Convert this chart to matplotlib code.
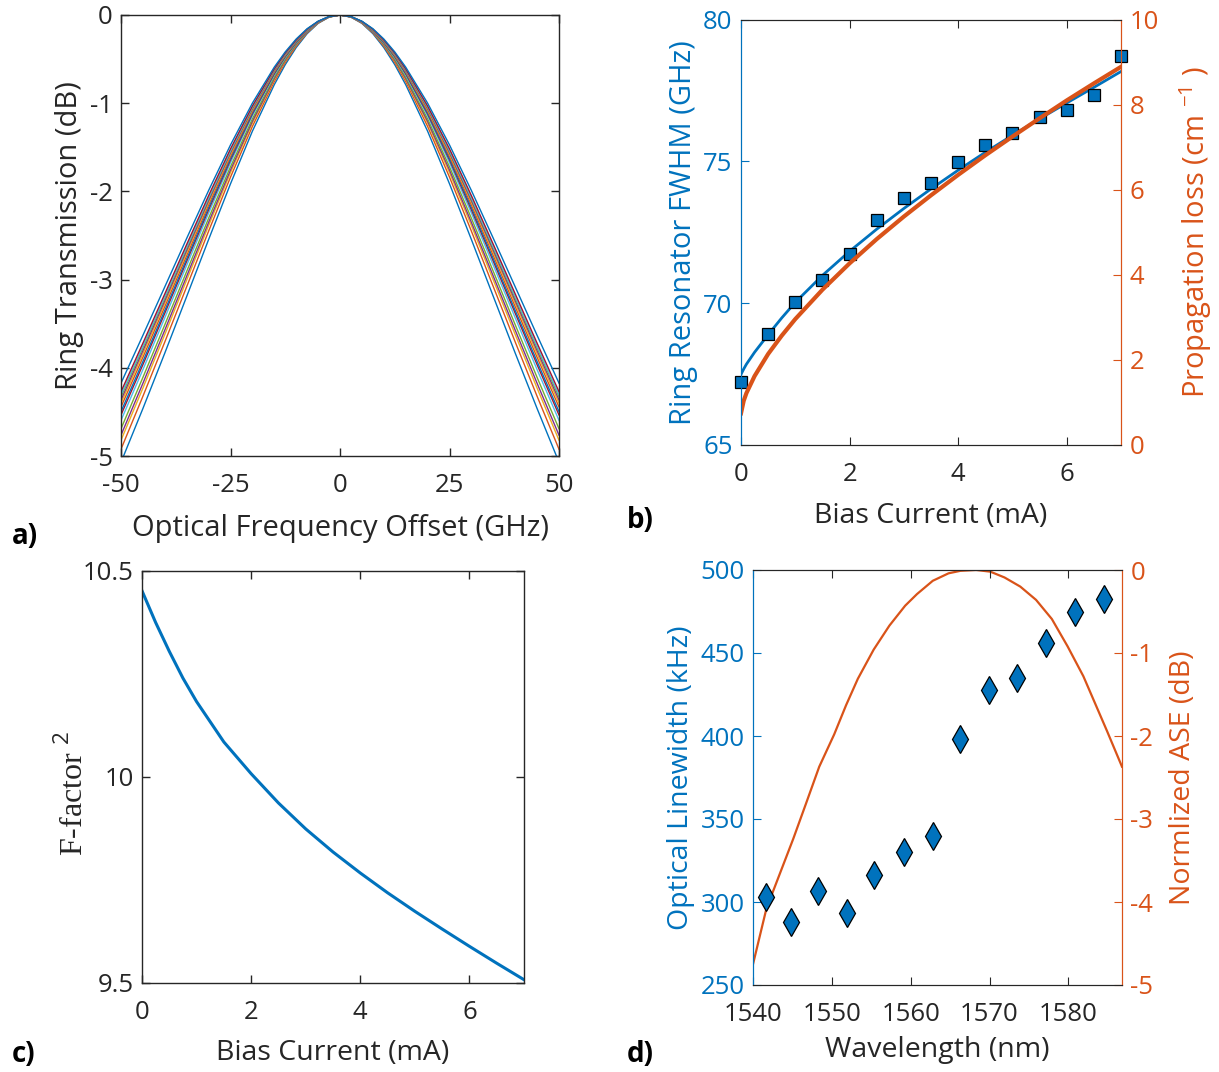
import matplotlib
matplotlib.use('Agg')
import matplotlib.pyplot as plt

plt.rcParams['font.family'] = ['Open Sans', 'DejaVu Sans']
plt.rcParams['mathtext.fontset'] = 'custom'
plt.rcParams['mathtext.rm'] = 'Open Sans'
plt.rcParams['mathtext.it'] = 'Open Sans'
plt.rcParams['axes.unicode_minus'] = False

# ---------------- data ----------------
# (a) ring transmission traces: half profile (offset 0..50 GHz), mirrored about 0
a_offset_half = [0, 2.5, 5, 7.5, 10, 12.5, 15, 20, 25, 30, 35, 40, 45, 50]
a_trace_01 = [0, -0.024, -0.095, -0.211, -0.369, -0.563, -0.790, -1.317, -1.914, -2.546, -3.191, -3.833, -4.462, -5.071]
a_trace_02 = [0, -0.023, -0.091, -0.201, -0.353, -0.538, -0.755, -1.263, -1.838, -2.451, -3.080, -3.707, -4.323, -4.923]
a_trace_03 = [0, -0.022, -0.088, -0.194, -0.342, -0.520, -0.732, -1.225, -1.787, -2.387, -3.004, -3.622, -4.230, -4.821]
a_trace_04 = [0, -0.022, -0.086, -0.191, -0.336, -0.511, -0.719, -1.204, -1.757, -2.351, -2.961, -3.573, -4.176, -4.764]
a_trace_05 = [0, -0.021, -0.084, -0.186, -0.328, -0.499, -0.702, -1.177, -1.721, -2.305, -2.907, -3.512, -4.109, -4.691]
a_trace_06 = [0, -0.020, -0.082, -0.180, -0.317, -0.483, -0.680, -1.143, -1.675, -2.246, -2.838, -3.433, -4.021, -4.596]
a_trace_07 = [0, -0.020, -0.080, -0.176, -0.311, -0.473, -0.667, -1.122, -1.645, -2.209, -2.792, -3.381, -3.964, -4.535]
a_trace_08 = [0, -0.020, -0.079, -0.174, -0.307, -0.467, -0.658, -1.109, -1.627, -2.185, -2.765, -3.350, -3.929, -4.497]
a_trace_09 = [0, -0.019, -0.077, -0.171, -0.301, -0.459, -0.646, -1.091, -1.601, -2.153, -2.727, -3.306, -3.881, -4.444]
a_trace_10 = [0, -0.019, -0.076, -0.168, -0.296, -0.452, -0.637, -1.076, -1.580, -2.126, -2.695, -3.269, -3.840, -4.400]
a_trace_11 = [0, -0.019, -0.075, -0.166, -0.293, -0.446, -0.630, -1.063, -1.562, -2.104, -2.668, -3.239, -3.806, -4.364]
a_trace_12 = [0, -0.019, -0.074, -0.164, -0.289, -0.441, -0.622, -1.051, -1.545, -2.082, -2.642, -3.209, -3.773, -4.328]
a_trace_13 = [0, -0.018, -0.074, -0.163, -0.286, -0.438, -0.618, -1.043, -1.535, -2.070, -2.627, -3.191, -3.753, -4.306]
a_trace_14 = [0, -0.018, -0.073, -0.161, -0.283, -0.432, -0.611, -1.032, -1.518, -2.048, -2.601, -3.162, -3.721, -4.271]
a_trace_15 = [0, -0.018, -0.070, -0.155, -0.272, -0.418, -0.591, -0.999, -1.473, -1.990, -2.532, -3.082, -3.632, -4.174]
a_traces = [a_trace_01, a_trace_02, a_trace_03, a_trace_04, a_trace_05,
            a_trace_06, a_trace_07, a_trace_08, a_trace_09, a_trace_10,
            a_trace_11, a_trace_12, a_trace_13, a_trace_14, a_trace_15]
a_xticks = [-50, -25, 0, 25, 50]
a_yticks = [0, -1, -2, -3, -4, -5]

# (b) FWHM vs bias current (measured squares)
b_current = [0, 0.5, 1, 1.5, 2, 2.5, 3, 3.5, 4, 4.5, 5, 5.5, 6, 6.5, 7]
b_fwhm = [67.23, 68.91, 70.05, 70.83, 71.74, 72.94, 73.70, 74.25, 74.97,
          75.57, 76.00, 76.56, 76.83, 77.35, 78.71]
# fitted FWHM line and propagation loss line
b_line_current = [0, 0.05, 0.1, 0.25, 0.5, 0.75, 1, 1.5, 2, 2.5, 3, 3.5, 4,
                  4.5, 5, 5.5, 6, 6.5, 7]
b_fit_fwhm = [67.49, 67.68, 67.85, 68.27, 68.89, 69.48, 70.03, 70.98, 71.83,
              72.61, 73.34, 74.03, 74.69, 75.32, 75.92, 76.50, 77.06, 77.61,
              78.17]
b_loss = [0.745, 1.04, 1.22, 1.62, 2.14, 2.57, 2.96, 3.65, 4.27, 4.84, 5.37,
          5.87, 6.35, 6.81, 7.25, 7.68, 8.10, 8.50, 8.89]

# (c) F-factor^2 vs bias current
c_current = [0, 0.25, 0.5, 0.75, 1, 1.5, 2, 2.5, 3, 3.5, 4, 4.5, 5, 5.5, 6, 6.5, 7]
c_ffactor2 = [10.452, 10.375, 10.305, 10.240, 10.183, 10.085, 10.008, 9.937,
              9.874, 9.818, 9.767, 9.719, 9.674, 9.631, 9.589, 9.548, 9.508]

# (d) linewidth vs wavelength and normalized ASE
d_wavelength = [1541.7, 1544.8, 1548.3, 1551.9, 1555.4, 1559.1, 1562.8,
                1566.2, 1569.9, 1573.5, 1577.2, 1580.8, 1584.5]
d_linewidth = [302.9, 287.9, 306.8, 293.1, 316.1, 330.0, 339.7,
               398.4, 427.5, 434.9, 455.9, 474.5, 482.5]
d_ase_wl = [1540.0, 1541.7, 1543.4, 1545.1, 1546.7, 1548.4, 1550.3, 1551.8,
            1553.3, 1555.3, 1557.3, 1559.3, 1560.8, 1562.8, 1564.8, 1566.3,
            1568.3, 1570.1, 1571.9, 1573.9, 1575.9, 1577.9, 1579.9, 1581.9,
            1583.4, 1584.9, 1586.8]
d_ase_db = [-4.75, -4.08, -3.66, -3.24, -2.82, -2.37, -1.98, -1.63,
            -1.31, -0.96, -0.67, -0.43, -0.29, -0.13, -0.04, -0.01,
            0.0, -0.02, -0.09, -0.20, -0.36, -0.59, -0.92, -1.28,
            -1.61, -1.94, -2.37]

# ---------------- style ----------------
BLUE = '#0072BD'
ORANGE = '#D95319'
DARK = '#262626'
mat_colors = ['#0072BD', '#D95319', '#EDB120', '#7E2F8E', '#77AC30', '#4DBEEE', '#A2142F']
TICK_FS = 18.5
LABEL_FS = 20.5
PAD = 12

fig = plt.figure(figsize=(12.19, 10.72), dpi=100)


def style_box(ax):
    for s in ax.spines.values():
        s.set_color(DARK)
        s.set_linewidth(1.0)
    ax.tick_params(direction='in', length=6, width=1.0, colors=DARK,
                   labelsize=TICK_FS, top=True, right=True)
    ax.tick_params(axis='x', pad=PAD)
    ax.tick_params(axis='y', pad=6)


# ---- (a)
axa = fig.add_axes([121/1219, 1-456/1072, 438/1219, 441/1072])
xa = [-f for f in reversed(a_offset_half)] + a_offset_half[1:]
for i, tr in enumerate(a_traces):
    ya = list(reversed(tr)) + tr[1:]
    axa.plot(xa, ya, color=mat_colors[i % 7], lw=1.0)
axa.set_xlim(-50, 50)
axa.set_ylim(-5, 0)
axa.set_xticks(a_xticks)
axa.set_yticks(a_yticks)
style_box(axa)
axa.set_xlabel('Optical Frequency Offset (GHz)', fontsize=21, color=DARK, labelpad=12)
axa.set_ylabel('Ring Transmission (dB)', fontsize=21, color=DARK, labelpad=4)

# ---- (b)
axb = fig.add_axes([741/1219, 1-445/1072, 380/1219, 425.4/1072])
axb.plot(b_line_current, b_fit_fwhm, color=BLUE, lw=2.0, zorder=2)
axb.plot(b_current, b_fwhm, 's', ms=9, mfc=BLUE, mec='black', mew=0.9,
         clip_on=False, zorder=3)
axb.set_xlim(0, 7)
axb.set_ylim(65, 80)
axb.set_xticks([0, 2, 4, 6])
axb.set_yticks([65, 70, 75, 80])
axb2 = axb.twinx()
axb2.plot(b_line_current, b_loss, color=ORANGE, lw=3.0)
axb2.set_ylim(0, 10)
axb2.set_yticks([0, 2, 4, 6, 8, 10])
for ax in (axb, axb2):
    for s in ax.spines.values():
        s.set_color(DARK)
    ax.spines['left'].set_color(BLUE)
    ax.spines['right'].set_color(ORANGE)
axb.tick_params(axis='x', direction='in', length=6, colors=DARK, labelsize=TICK_FS, top=True, pad=PAD)
axb.tick_params(axis='y', direction='in', length=6, colors=BLUE, labelsize=TICK_FS, pad=6)
axb2.tick_params(axis='y', direction='in', length=6, colors=ORANGE, labelsize=TICK_FS, pad=6)
axb.set_xlabel('Bias Current (mA)', fontsize=LABEL_FS, color=DARK, labelpad=11)
axb.set_ylabel('Ring Resonator FWHM (GHz)', fontsize=21, color=BLUE, labelpad=4)
axb2.set_ylabel(r'Propagation loss (cm $^{-1}$ )', fontsize=21, color=ORANGE, labelpad=13)

# ---- (c)
axc = fig.add_axes([142/1219, 1-983/1072, 382/1219, 412/1072])
axc.plot(c_current, c_ffactor2, color=BLUE, lw=2.2)
axc.set_xlim(0, 7)
axc.set_ylim(9.5, 10.5)
axc.set_xticks([0, 2, 4, 6])
axc.set_yticks([9.5, 10, 10.5])
axc.set_yticklabels(['9.5', '10', '10.5'])
style_box(axc)
axc.set_xlabel('Bias Current (mA)', fontsize=LABEL_FS, color=DARK, labelpad=10)
axc.set_ylabel('F-factor $^{2}$', fontsize=23, color=DARK,
               family=['Liberation Serif', 'DejaVu Serif'])
axc.yaxis.set_label_coords(-0.135, 0.46)

# ---- (d)
axd = fig.add_axes([753/1219, 1-985/1072, 369/1219, 415/1072])
axd.plot(d_wavelength, d_linewidth, 'd', ms=14, mfc=BLUE, mec='black', mew=0.9,
         clip_on=False, zorder=3)
axd.set_xlim(1540, 1586.8)
axd.set_ylim(250, 500)
axd.set_xticks([1540, 1550, 1560, 1570, 1580])
axd.set_yticks([250, 300, 350, 400, 450, 500])
axd2 = axd.twinx()
axd2.plot(d_ase_wl, d_ase_db, color=ORANGE, lw=1.6)
axd2.set_ylim(-5, 0)
axd2.set_yticks([0, -1, -2, -3, -4, -5])
axd.set_zorder(axd2.get_zorder() + 1)
axd.patch.set_visible(False)
for ax in (axd, axd2):
    for s in ax.spines.values():
        s.set_color(DARK)
    ax.spines['left'].set_color(BLUE)
    ax.spines['right'].set_color(ORANGE)
axd.tick_params(axis='x', direction='in', length=6, colors=DARK, labelsize=TICK_FS, top=True, pad=PAD)
axd.tick_params(axis='y', direction='in', length=6, colors=BLUE, labelsize=TICK_FS, pad=6)
axd2.tick_params(axis='y', direction='in', length=6, colors=ORANGE, labelsize=TICK_FS, pad=6)
axd.set_xlabel('Wavelength (nm)', fontsize=LABEL_FS, color=DARK, labelpad=7)
axd.set_ylabel('Optical Linewidth (kHz)', fontsize=LABEL_FS, color=BLUE, labelpad=4)
axd2.set_ylabel('Normlized ASE (dB)', fontsize=LABEL_FS, color=ORANGE, labelpad=11)

# panel labels
for lab, x, y in [('a)', 12, 537), ('b)', 627, 520), ('c)', 12, 1055), ('d)', 627, 1055)]:
    fig.text(x/1219, 1-y/1072, lab, fontsize=20, fontweight='bold', color='black',
             ha='left', va='center')

fig.savefig('out.png', dpi=100)
